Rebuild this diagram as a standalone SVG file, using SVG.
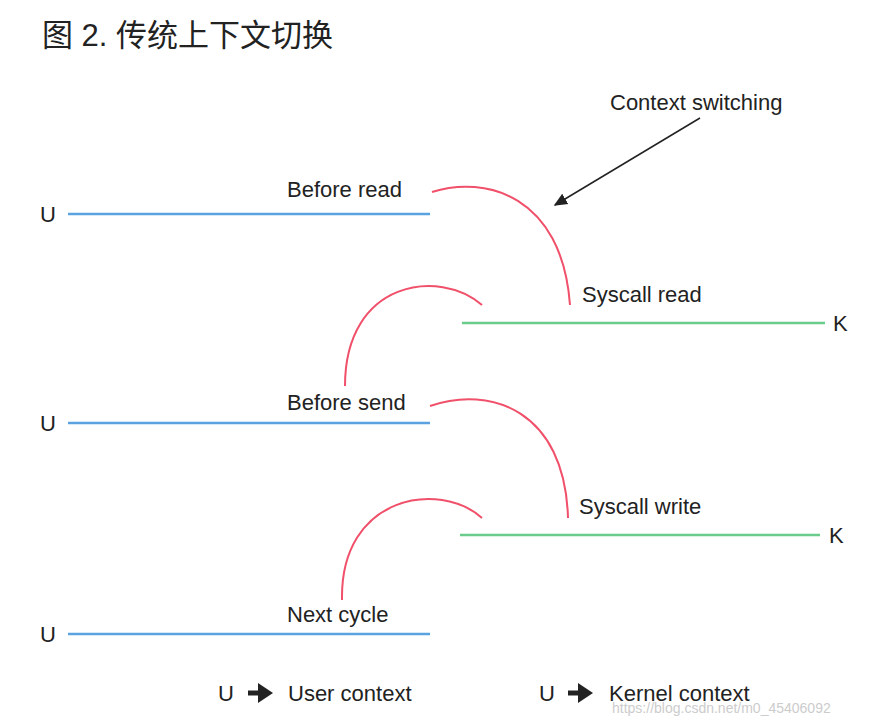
<svg xmlns="http://www.w3.org/2000/svg" width="870" height="722" viewBox="0 0 870 722">
<style>
text{font-family:"Liberation Sans","Noto Sans CJK SC",sans-serif;fill:#222;font-size:22px}
.u{stroke:#5aa3e0;stroke-width:2.5}
.k{stroke:#6acb8a;stroke-width:2.5}
.r{stroke:#f0506a;stroke-width:2;fill:none}
</style>
<defs><marker id="ah" markerWidth="10" markerHeight="10" refX="8" refY="5" orient="auto"><path d="M0,1 L9,5 L0,9 Z" fill="#222"/></marker>
<marker id="big" markerWidth="4" markerHeight="4" refX="2" refY="2" orient="auto"><path d="M0,0 L3,2 L0,4 Z" fill="#222"/></marker></defs>
<rect width="870" height="722" fill="#fff"/>
<text x="42" y="46" style="font-size:31px">图 2. 传统上下文切换</text>
<g id="lines">
<line class="u" x1="68" y1="214" x2="430" y2="214"/>
<line class="u" x1="68" y1="423" x2="430" y2="423"/>
<line class="u" x1="68" y1="634" x2="430" y2="634"/>
<line class="k" x1="462" y1="323" x2="825" y2="323"/>
<line class="k" x1="460" y1="535" x2="820" y2="535"/>
</g>
<g id="connectors">
<path class="r" d="M432,192 C485,175 562,195 570,305"/>
<path class="r" d="M482,305 C440,268 345,280 345,386"/>
<path class="r" d="M430,406 C490,385 565,410 568,518"/>
<path class="r" d="M482,518 C440,480 340,495 342,600"/>
<line x1="700" y1="118" x2="555" y2="205" stroke="#222" stroke-width="1.5" marker-end="url(#ah)"/>
</g>
<g id="labels">
<text x="40" y="222">U</text><text x="40" y="431">U</text><text x="40" y="642">U</text>
<text x="833" y="331">K</text><text x="829" y="543">K</text>
<text x="610" y="110">Context switching</text>
<text x="287" y="197">Before read</text>
<text x="582" y="302">Syscall read</text>
<text x="287" y="410">Before send</text>
<text x="579" y="514">Syscall write</text>
<text x="287" y="622">Next cycle</text>
</g>
<g id="legend">
<text x="218" y="701">U</text>
<line x1="248" y1="693" x2="268" y2="693" stroke="#222" stroke-width="5" marker-end="url(#big)"/>
<text x="288" y="701">User context</text>
<text x="539" y="701">U</text>
<line x1="568" y1="693" x2="588" y2="693" stroke="#222" stroke-width="5" marker-end="url(#big)"/>
<text x="609" y="701">Kernel context</text>
<text x="612" y="713" style="font-size:14px;fill:#ccc">https://blog.csdn.net/m0_45406092</text>
</g>
</svg>
